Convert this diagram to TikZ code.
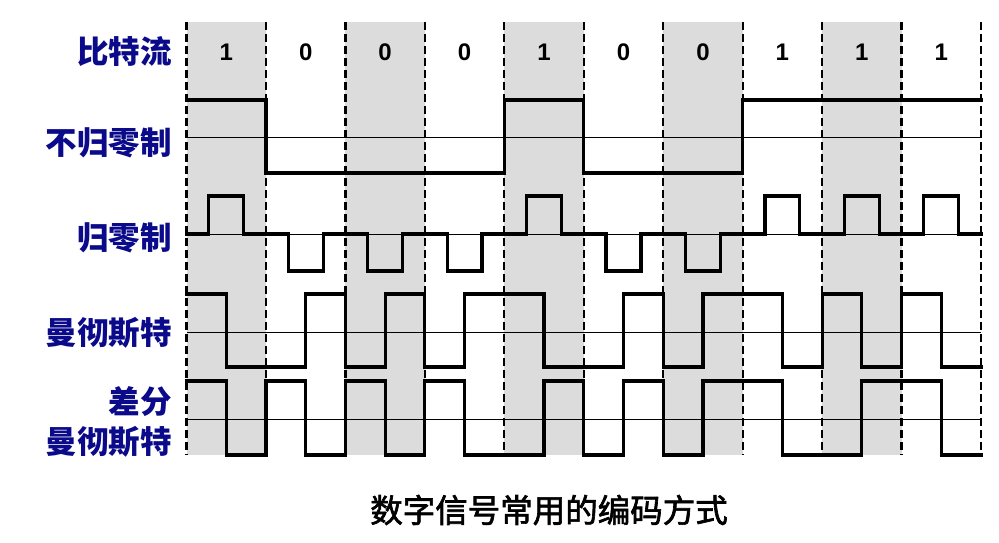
\documentclass[tikz,border=0pt]{standalone}
\usepackage{fontspec}
\setmainfont{Liberation Sans}
\newfontfamily\cjk{Noto Sans CJK SC}
\newfontfamily\cjkt[FakeBold=2]{Noto Sans CJK SC}
\definecolor{lblblue}{HTML}{0A0A8A}
\definecolor{shade}{HTML}{DCDCDC}
\tikzset{
  lbl/.style={anchor=east, inner sep=0pt, text=lblblue, font=\cjk\bfseries\fontsize{31.5}{33}\selectfont},
  bitlbl/.style={inner sep=0pt, font=\bfseries\fontsize{24}{26}\selectfont},
  sig/.style={line width=3.2pt, line join=miter, line cap=rect},
  base/.style={line width=1pt},
  divider/.style={line width=2.2pt, dash pattern=on 8pt off 4pt},
  shadebox/.style={fill=shade, draw=none}
}
\begin{document}
\begin{tikzpicture}[x=1pt, y=-1pt]
\useasboundingbox (0,0) rectangle (999,542);
\fill[white] (0,0) rectangle (999,542);
\begin{scope}[xshift=186.5pt, x=79.45pt]
  % shaded bit slots
  \foreach \i in {0,2,4,6,8} \fill[shadebox] (\i,22) rectangle (\i+1,455);
  % bit boundaries
  \foreach \i in {0,...,10} \draw[divider] (\i,22) -- (\i,455);
  % thin reference lines
  \foreach \yy in {137,234,332,419} \draw[base] (0,\yy) -- (10,\yy);
  % bit values
  \foreach \b [count=\i from 0] in {1,0,0,0,1,0,0,1,1,1}
    \node[bitlbl] (bit\i) at (\i+0.5,52) {\b};
  % NRZ
  \draw[sig] (0,100) -- (1,100) -- (1,173) -- (4,173) -- (4,100) -- (5,100)
     -- (5,173) -- (7,173) -- (7,100) -- (10,100);
  % RZ
  \draw[sig] (0,234) \foreach \L [count=\i from 0] in {196,271,271,271,196,271,271,196,196,196}
     { -- (\i+0.28,234) -- (\i+0.28,\L) -- (\i+0.72,\L) -- (\i+0.72,234) } -- (10,234);
  % Manchester
  \draw[sig] (0,294) \foreach \L [count=\j from 0] in
     {294,367,367,294,367,294,367,294,294,367,367,294,367,294,294,367,294,367,294,367}
     { -- (\j*0.5,\L) -- (\j*0.5+0.5,\L) };
  % Differential Manchester
  \draw[sig] (0,381) \foreach \L [count=\j from 0] in
     {381,455,381,455,381,455,381,455,455,381,455,381,455,381,381,455,455,381,381,455}
     { -- (\j*0.5,\L) -- (\j*0.5+0.5,\L) };
\end{scope}
% row labels
\node[lbl] (lstream) at (172,52) {比特流};
\node[lbl] (lnrz) at (172,143) {不归零制};
\node[lbl] (lrz) at (172,238) {归零制};
\node[lbl] (lman) at (172,333) {曼彻斯特};
\node[lbl] (ldiff1) at (172,402) {差分};
\node[lbl] (ldiff2) at (172,442) {曼彻斯特};
% caption
\node[inner sep=0pt, font=\cjkt\fontsize{32.5}{34}\selectfont] (title) at (549,510) {数字信号常用的编码方式};
\end{tikzpicture}
\end{document}
